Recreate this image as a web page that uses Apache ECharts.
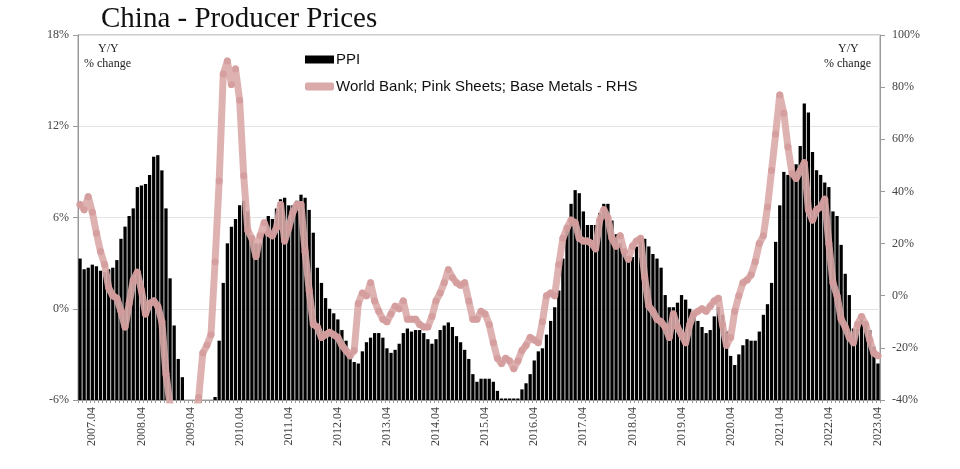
<!DOCTYPE html>
<html>
<head>
<meta charset="utf-8">
<script src="https://cdn.jsdelivr.net/npm/echarts@6/dist/echarts.min.js"></script>
<style>
html,body{margin:0;padding:0;background:#fff;}
#chart{width:960px;height:469px;}
</style>
</head>
<body>
<div id="chart"></div>
<script>
// Monthly categories 2007.01 .. 2023.04
const startYear = 2007, endYear = 2023, endMonth = 4;
const categories = [];
for (let y = startYear; y <= endYear; y++) {
  for (let m = 1; m <= 12; m++) {
    if (y === endYear && m > endMonth) break;
    categories.push(y + '.' + (m < 10 ? '0' + m : m));
  }
}

// China PPI, Y/Y % change (left axis)
const ppi = [
  3.3,2.6,2.7,2.9,2.8,2.5,2.4,2.6,2.7,3.2,4.6,5.4,
  6.1,6.6,8.0,8.1,8.2,8.8,10.0,10.1,9.1,6.6,2.0,-1.1,
  -3.3,-4.5,-6.0,-6.6,-7.2,-7.8,-8.2,-7.9,-7.0,-5.8,-2.1,1.7,
  4.3,5.4,5.9,6.8,7.1,6.4,4.8,4.3,4.3,5.0,6.1,5.9,
  6.6,7.2,7.3,6.8,6.8,7.1,7.5,7.3,6.5,5.0,2.7,1.7,
  0.7,0.0,-0.3,-0.7,-1.4,-2.1,-2.9,-3.5,-3.6,-2.8,-2.2,-1.9,
  -1.6,-1.6,-1.9,-2.6,-2.9,-2.7,-2.3,-1.6,-1.3,-1.5,-1.4,-1.4,
  -1.6,-2.0,-2.3,-2.0,-1.4,-1.1,-0.9,-1.2,-1.8,-2.2,-2.7,-3.3,
  -4.3,-4.8,-4.6,-4.6,-4.6,-4.8,-5.4,-5.9,-5.9,-5.9,-5.9,-5.9,
  -5.3,-4.9,-4.3,-3.4,-2.8,-2.6,-1.7,-0.8,0.1,1.2,3.3,5.5,
  6.9,7.8,7.6,6.4,5.5,5.5,5.5,6.3,6.9,6.9,5.8,4.9,
  4.3,3.7,3.1,3.4,4.1,4.7,4.6,4.1,3.6,3.3,2.7,0.9,
  0.1,0.1,0.4,0.9,0.6,0.0,-0.3,-0.8,-1.2,-1.6,-1.4,-0.5,
  0.1,-0.4,-1.5,-3.1,-3.7,-3.0,-2.4,-2.0,-2.1,-2.1,-1.5,-0.4,
  0.3,1.7,4.4,6.8,9.0,8.8,9.0,9.5,10.7,13.5,12.9,10.3,
  9.1,8.8,8.3,8.0,6.4,6.1,4.2,2.3,0.9,-1.3,-1.3,-0.7,
  -0.8,-1.4,-2.5,-3.6
];

// World Bank Pink Sheets base metals, Y/Y % change (right axis)
const baseMetals = [
  35,33,38,32,24,17,12,3,0,-1,-6,-12,
  -3,6,9,2,-7,-3,-2,-4,-10,-30,-42,-48,
  -52,-54,-55,-52,-47,-39,-22,-19,-15,13,44,85,
  90,81,87,75,46,25,22,15,23,28,24,23,
  26,35,21,26,32,35,35,17,2,-11,-12,-16,
  -15,-14,-15,-16,-19,-21,-23,-21,-3,1,0,5,
  -2,-6,-9,-10,-7,-4,-5,-2,-9,-9,-9,-11,
  -12,-12,-8,-2,1,5,10,7,5,4,5,-2,
  -9,-9,-6,-7,-11,-18,-24,-26,-24,-25,-28,-25,
  -21,-19,-16,-17,-18,-10,0,1,0,12,22,26,
  29,28,22,21,21,20,18,29,33,30,22,19,
  23,17,14,19,21,22,7,-4,-6,-9,-10,-12,
  -16,-7,-12,-15,-18,-11,-7,-6,-5,-6,-4,-2,
  -1,-11,-19,-16,-6,0,5,6,8,13,20,23,
  34,48,62,77,70,57,47,45,48,51,33,29,
  33,34,37,20,5,0,-9,-12,-16,-18,-11,-8,
  -11,-17,-22,-23
];

// Axis ranges
const leftMin = -6, leftMax = 18, leftStep = 6;
const rightMin = -40, rightMax = 100, rightStep = 20;

const seriesNames = ['PPI', 'World Bank; Pink Sheets; Base Metals - RHS'];

// Bars grow from the bottom of the left axis (as in the reference)
const ppiFromBottom = ppi.map(v => v - leftMin);

const serif = 'Liberation Serif, Times New Roman, serif';
const sans = 'Liberation Sans, Arial, sans-serif';
const pink = '#dcaaaa';

const chart = echarts.init(document.getElementById('chart'), null, {renderer: 'canvas'});
chart.setOption({
  animation: false,
  backgroundColor: '#fff',
  title: {
    text: 'China - Producer Prices',
    left: 96, top: 0,
    textStyle: {fontFamily: serif, fontSize: 29, fontWeight: 'normal', color: '#111'}
  },
  legend: {
    orient: 'vertical',
    left: 300, top: 47,
    itemWidth: 29, itemHeight: 8, itemGap: 12,
    textStyle: {fontFamily: sans, fontSize: 15, color: '#111', padding: [0,0,0,-3]},
    data: [
      {name: seriesNames[0], icon: 'rect'},
      {name: seriesNames[1], icon: 'roundRect'}
    ]
  },
  grid: {
    left: 78, right: 80, top: 35, bottom: 69,
    show: true, borderColor: '#9a9a9a', borderWidth: 1
  },
  xAxis: {
    type: 'category',
    data: categories,
    boundaryGap: true,
    axisLine: {show: true, lineStyle: {color: '#9a9a9a', width: 1}},
    axisTick: {show: true, interval: 0, length: 3, lineStyle: {color: '#9a9a9a'}},
    axisLabel: {
      interval: (idx) => idx % 12 === 3,
      rotate: 90, margin: 7,
      fontFamily: serif, fontSize: 12, color: '#444'
    },
    splitLine: {show: false}
  },
  yAxis: [
    {
      type: 'value',
      min: 0, max: leftMax - leftMin, interval: leftStep,
      position: 'left',
      axisLine: {show: true, lineStyle: {color: '#9a9a9a'}},
      axisTick: {show: true, length: 5, lineStyle: {color: '#9a9a9a'}},
      axisLabel: {
        formatter: v => (v + leftMin) + '%',
        fontFamily: serif, fontSize: 12, color: '#444', margin: 9
      },
      splitLine: {show: true, lineStyle: {color: '#e4e4e4', width: 1}}
    },
    {
      type: 'value',
      min: rightMin, max: rightMax, interval: rightStep,
      position: 'right',
      axisLine: {show: true, lineStyle: {color: '#9a9a9a'}},
      axisTick: {show: true, length: 5, lineStyle: {color: '#9a9a9a'}},
      axisLabel: {
        formatter: v => v + '%',
        fontFamily: serif, fontSize: 12, color: '#444', margin: 12
      },
      splitLine: {show: false}
    }
  ],
  graphic: [
    {type: 'text', left: 98, top: 43, style: {text: 'Y/Y', font: '12px ' + serif, fill: '#222'}},
    {type: 'text', left: 84, top: 58, style: {text: '% change', font: '12px ' + serif, fill: '#222'}},
    {type: 'text', left: 838, top: 43, style: {text: 'Y/Y', font: '12px ' + serif, fill: '#222'}},
    {type: 'text', left: 824, top: 58, style: {text: '% change', font: '12px ' + serif, fill: '#222'}}
  ],
  series: [
    {
      name: seriesNames[0],
      type: 'bar',
      yAxisIndex: 0,
      data: ppiFromBottom,
      barCategoryGap: '20%',
      itemStyle: {color: '#000'},
      z: 2
    },
    {
      name: seriesNames[1],
      type: 'line',
      yAxisIndex: 1,
      data: baseMetals,
      symbol: 'circle',
      symbolSize: 7,
      showSymbol: true,
      showAllSymbol: true,
      lineStyle: {color: pink, width: 7, cap: 'round', join: 'round', opacity: 0.9},
      itemStyle: {color: '#d49b9b', opacity: 0.85},
      z: 3
    }
  ]
});
</script>
</body>
</html>
